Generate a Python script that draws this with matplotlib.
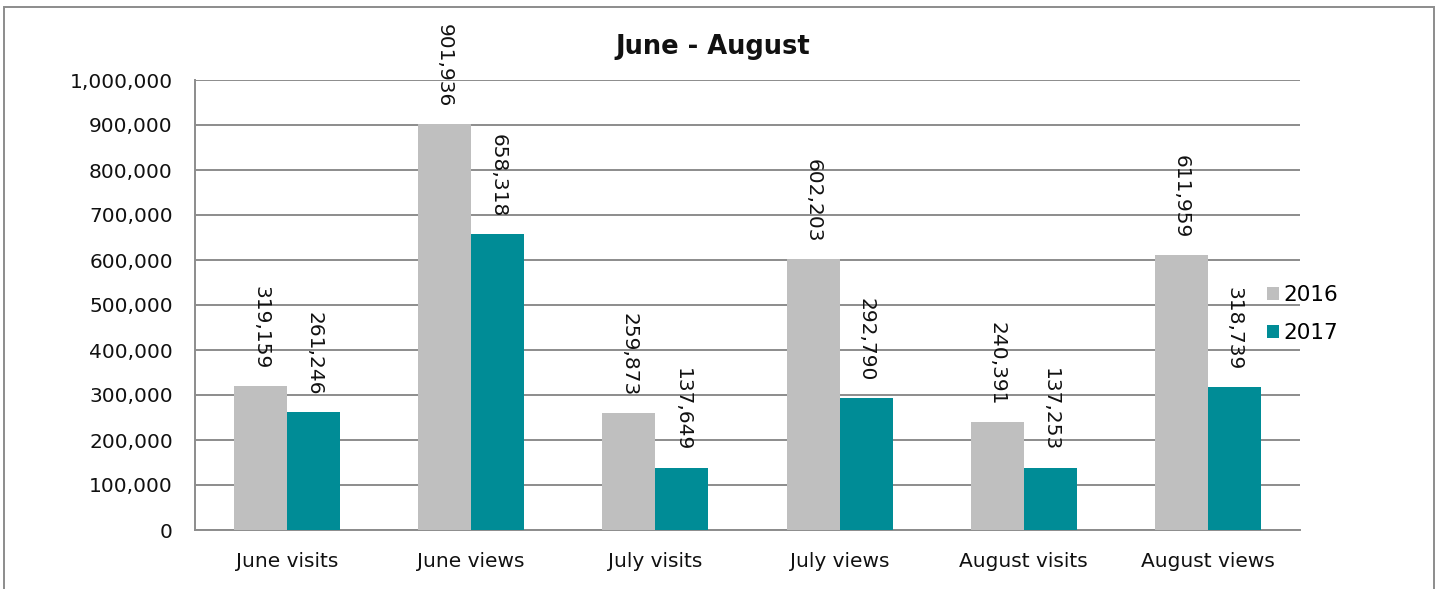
import matplotlib
matplotlib.use("Agg")
import matplotlib.pyplot as plt
import numpy as np
from matplotlib.patches import Rectangle
from matplotlib.ticker import FuncFormatter

categories = ["June visits", "June views", "July visits", "July views", "August visits", "August views"]
series_names = ["2016", "2017"]
values_2016 = [319159, 901936, 259873, 602203, 240391, 611959]
values_2017 = [261246, 658318, 137649, 292790, 137253, 318739]
colors = ["#BFBFBF", "#008C96"]

plt.rcParams['font.family'] = ['DejaVu Sans']

fig = plt.figure(figsize=(14.4, 5.89), dpi=100)
ax = fig.add_axes([195/1440, 1-530/589, (1300-195)/1440, (530-80)/589])

x = np.arange(len(categories))
w = 0.288
bars = []
for i, (vals, name) in enumerate(zip([values_2016, values_2017], series_names)):
    b = ax.bar(x + (i - 0.5) * w, vals, width=w, color=colors[i], label=name, zorder=3)
    bars.append(b)
    for xi, v in zip(x + (i - 0.5) * w, vals):
        ax.annotate(f"{v:,}", xy=(xi, v), xytext=(0, 12), textcoords="offset points",
                    rotation=270, ha="center", va="bottom", fontsize=14.5, color="#111111",
                    zorder=5, annotation_clip=False)

ax.set_xlim(-0.5, len(categories) - 0.5)
ax.set_ylim(0, 1000000)
ax.set_yticks(np.arange(0, 1000001, 100000))
ax.yaxis.set_major_formatter(FuncFormatter(lambda v, p: f"{int(v):,}"))
ax.set_xticks(x)
ax.set_xticklabels(categories)
ax.tick_params(axis="both", length=0, labelsize=14.5, colors="#111111")
ax.tick_params(axis="y", pad=16)
ax.tick_params(axis="x", pad=16)
ax.grid(axis="y", color="#8C8C8C", linewidth=1.4, zorder=0)
for s in ["top", "right"]:
    ax.spines[s].set_visible(False)
for s in ["left", "bottom"]:
    ax.spines[s].set_color("#8C8C8C")
    ax.spines[s].set_linewidth(1.4)

fig.text(713/1440, 1-47/589, "June - August", ha="center", va="center",
         fontsize=18.5, fontweight="bold", color="#111111")

leg = fig.legend(handles=bars, labels=series_names, loc="center left",
                 bbox_to_anchor=(1267/1440, 1-314/589), frameon=False,
                 fontsize=15.5, handlelength=0.55, handleheight=0.55,
                 handletextpad=0.2, labelspacing=0.85, borderpad=0, borderaxespad=0)

fig.patches.append(Rectangle((4/1440, -0.05), (1434-4)/1440, 1-7/589+0.05,
                             transform=fig.transFigure, fill=False,
                             edgecolor="#8C8C8C", linewidth=1.4))

fig.savefig("out.png", dpi=100)
